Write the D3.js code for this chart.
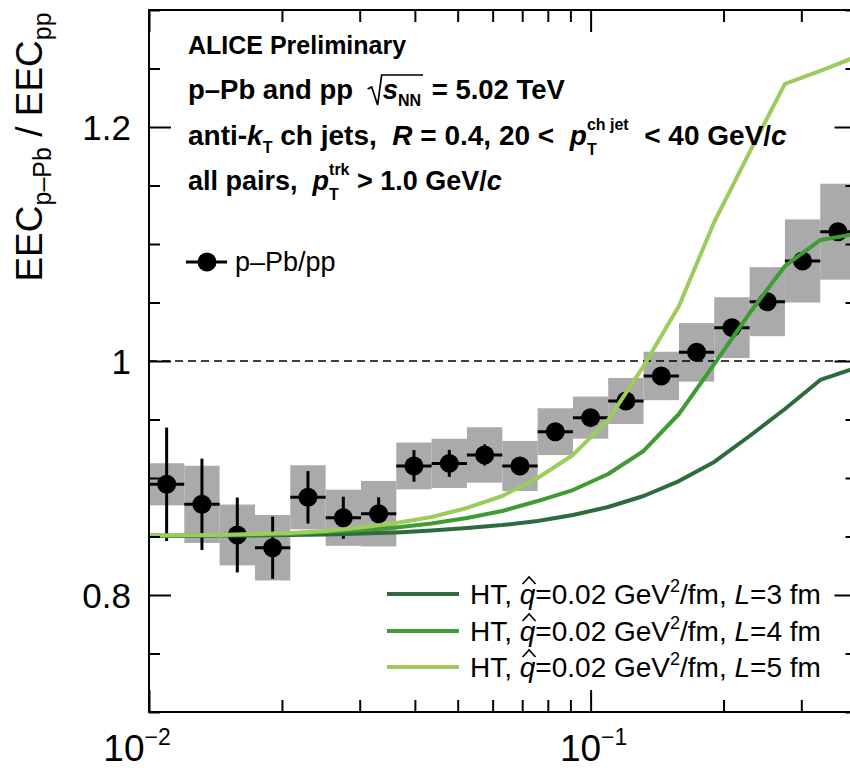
<!DOCTYPE html>
<html><head><meta charset="utf-8">
<script src="https://cdn.jsdelivr.net/npm/d3@7"></script>
<style>
body{margin:0;background:#fff}
svg{display:block}
text{font-family:"Liberation Sans",Arial,Helvetica,sans-serif;white-space:pre}
</style>
</head><body>
<svg id="c" width="850" height="768"></svg>
<script>
// ---------- data ----------
const binEdges = [0.01, 0.01202, 0.01445, 0.01738, 0.02089, 0.02512, 0.0302, 0.0363, 0.04365, 0.05248,
  0.0631, 0.07586, 0.0912, 0.1096, 0.1318, 0.1585, 0.1905, 0.2291, 0.2754, 0.3311, 0.3981];
const ratio = [0.8946, 0.8775, 0.8513, 0.8404, 0.8835, 0.8660, 0.8695, 0.9103, 0.9125, 0.9197,
  0.9103, 0.9396, 0.9516, 0.9658, 0.9872, 1.0074, 1.0285, 1.0507, 1.0855, 1.1105];
const statErr = [0.0485, 0.039, 0.032, 0.0266, 0.0224, 0.018, 0.014, 0.0135, 0.0115, 0.009,
  0.006, 0.005, 0.005, 0.004, 0.004, 0.004, 0.004, 0.004, 0.004, 0.004];
const sysErr = [0.018, 0.033, 0.026, 0.028, 0.0274, 0.024, 0.028, 0.020, 0.021, 0.0237,
  0.0214, 0.020, 0.018, 0.0197, 0.0207, 0.025, 0.026, 0.0295, 0.0355, 0.041];
// theory curves (values at bin edges)
const htL3 = [0.8504, 0.8504, 0.8509, 0.8509, 0.8513, 0.8517, 0.8526, 0.8534, 0.8551, 0.8573,
  0.8598, 0.8632, 0.8684, 0.8752, 0.8846, 0.8974, 0.9137, 0.9359, 0.9590, 0.9838, 0.9940];
const htL4 = [0.8509, 0.8509, 0.8513, 0.8517, 0.8521, 0.8538, 0.8556, 0.8577, 0.8611, 0.8658,
  0.8718, 0.8803, 0.8897, 0.9034, 0.9231, 0.9547, 0.9974, 1.0410, 1.0812, 1.1034, 1.1085];
const htL5 = [0.8509, 0.8510, 0.8513, 0.8521, 0.8530, 0.8547, 0.8577, 0.8615, 0.8667, 0.8744,
  0.8846, 0.9000, 0.9197, 0.9496, 0.9957, 1.0470, 1.1188, 1.1786, 1.2368, 1.2479, 1.2598];
const theoryL = ["3", "4", "5"];
const theoryColors = ["#2e6c3e", "#3f9b33", "#9dcc5c"];
const yTickLabels = [0.8, 1.0, 1.2];
const xTickMajor = [0.01, 0.1];
const xTickExp = ["\u22122", "\u22121"];

// ---------- setup ----------
const svg = d3.select("#c");
const x = d3.scaleLog().domain([0.01, 0.4]).range([149, 856.5]);
const y = d3.scaleLinear().domain([0.7, 1.3]).range([712, 10]);
const X0 = x.range()[0], X1 = x.range()[1], Y0 = y.range()[0], Y1 = y.range()[1];

const bins = ratio.map((v, i) => ({
  lo: binEdges[i], hi: binEdges[i + 1], c: Math.sqrt(binEdges[i] * binEdges[i + 1]),
  v, s: statErr[i], sys: sysErr[i]
}));

// systematic boxes
svg.append("g").selectAll("rect").data(bins).join("rect")
  .attr("x", d => x(d.lo)).attr("width", d => x(d.hi) - x(d.lo))
  .attr("y", d => y(d.v + d.sys)).attr("height", d => y(d.v - d.sys) - y(d.v + d.sys))
  .attr("fill", "#aaaaaa");

// dashed unity line
svg.append("line").attr("x1", X0).attr("x2", X1).attr("y1", y(1)).attr("y2", y(1))
  .attr("stroke", "#000").attr("stroke-width", 1.6).attr("stroke-dasharray", "8,5");

// stat errors
const eg = svg.append("g").attr("stroke", "#000").attr("stroke-width", 3);
eg.selectAll(".h").data(bins).join("line").attr("class", "h")
  .attr("x1", d => x(d.lo)).attr("x2", d => x(d.hi)).attr("y1", d => y(d.v)).attr("y2", d => y(d.v));
eg.selectAll(".v").data(bins).join("line").attr("class", "v")
  .attr("x1", d => x(d.c)).attr("x2", d => x(d.c)).attr("y1", d => y(d.v - d.s)).attr("y2", d => y(d.v + d.s));
svg.append("g").selectAll("circle").data(bins).join("circle")
  .attr("cx", d => x(d.c)).attr("cy", d => y(d.v)).attr("r", 9.5).attr("fill", "#000");

// theory curves
const line = d3.line().x((d, i) => x(binEdges[i])).y(d => y(d));
[htL3, htL4, htL5].forEach((arr, k) => {
  svg.append("path").datum(arr).attr("d", line).attr("fill", "none")
    .attr("stroke", theoryColors[k]).attr("stroke-width", 4).attr("stroke-linejoin", "round");
});

// ---------- frame & ticks ----------
const yMinor = y.ticks(12).filter(v => !yTickLabels.some(t => Math.abs(t - v) < 1e-6));
const xMinor = x.ticks().filter(v => !xTickMajor.some(t => Math.abs(t - v) / t < 1e-6));
function tickGroup(axisFn, tr) {
  const g = svg.append("g").attr("transform", tr).call(axisFn);
  g.select(".domain").remove();
  g.selectAll("line").attr("stroke", "#000").attr("stroke-width", 2);
  return g;
}
tickGroup(d3.axisLeft(y).tickValues(yMinor).tickSize(-11).tickFormat(""), `translate(${X0},0)`);
tickGroup(d3.axisLeft(y).tickValues(yTickLabels).tickSize(-22).tickFormat(""), `translate(${X0},0)`);
tickGroup(d3.axisRight(y).tickValues(yMinor).tickSize(-11).tickFormat(""), `translate(${X1},0)`);
tickGroup(d3.axisRight(y).tickValues(yTickLabels).tickSize(-22).tickFormat(""), `translate(${X1},0)`);
tickGroup(d3.axisBottom(x).tickValues(xMinor).tickSize(-12).tickFormat(""), `translate(0,${Y0})`);
tickGroup(d3.axisBottom(x).tickValues(xTickMajor).tickSize(-22).tickFormat(""), `translate(0,${Y0})`);
tickGroup(d3.axisTop(x).tickValues(xMinor).tickSize(-12).tickFormat(""), `translate(0,${Y1})`);
tickGroup(d3.axisTop(x).tickValues(xTickMajor).tickSize(-22).tickFormat(""), `translate(0,${Y1})`);
svg.append("rect").attr("x", X0).attr("y", Y1).attr("width", X1 - X0).attr("height", Y0 - Y1)
  .attr("fill", "none").attr("stroke", "#000").attr("stroke-width", 2);

// ---------- rich text helper ----------
function rich(g, x0, y0, segs, base) {
  let cx = x0, prevStart = x0;
  const out = [];
  segs.forEach(s => {
    if (s.gap !== undefined) { cx += s.gap; out.push({x: cx}); return; }
    const size = s.size || base.size;
    const sx = s.stack ? prevStart : cx;
    const t = g.append("text").attr("x", sx).attr("y", y0 + (s.dy || 0))
      .attr("font-size", size)
      .attr("font-weight", (s.bold !== undefined ? s.bold : base.bold) ? "bold" : "normal")
      .attr("font-style", s.italic ? "italic" : "normal")
      .attr("fill", "#000").text(s.t);
    const w = t.node().getComputedTextLength();
    if (s.stack) cx = Math.max(cx, sx + w); else { prevStart = sx; cx = sx + w; }
    out.push({x: sx, w});
  });
  out.end = cx;
  return out;
}

// ---------- axis labels ----------
yTickLabels.forEach(v => {
  svg.append("text").attr("x", 131).attr("y", y(v) + 12.5).attr("text-anchor", "end")
    .attr("font-size", 35).text(String(v));
});
const xLabelShift = [-12, 3];
xTickMajor.forEach((v, i) => {
  const g = svg.append("g");
  const r = rich(g, 0, 0, [{t: "10"}, {t: xTickExp[i], size: 23, dy: -16}], {size: 37, bold: false});
  g.attr("transform", `translate(${x(v) - r.end / 2 + xLabelShift[i]},${761})`);
});
{
  const g = svg.append("g").attr("transform", "translate(42,147) rotate(-90)");
  const inner = g.append("g");
  const r = rich(inner, 0, 0, [
    {t: "EEC"}, {t: "p\u2013Pb", size: 25, dy: 9}, {t: " / EEC"}, {t: "pp", size: 25, dy: 9}
  ], {size: 37, bold: false});
  inner.attr("transform", `translate(${-r.end / 2},0)`);
}

// ---------- header text ----------
const tb = {size: 27.5, bold: true};
rich(svg, 188, 54, [{t: "ALICE Preliminary", size: 25}], tb);
{
  const r = rich(svg, 188, 99, [{t: "p\u2013Pb and pp "}, {gap: 22}, {t: "s", italic: true},
    {t: "NN", size: 16, dy: 7}, {gap: 3}, {t: " = 5.02 TeV"}], tb);
  const xs = r[1].x, xe = r[3].x + r[3].w + 2, yb = 99;
  svg.append("path")
    .attr("d", `M${xs - 15},${yb - 10} L${xs - 11},${yb - 12} L${xs - 5},${yb + 6} L${xs - 1},${yb - 24} L${xe},${yb - 24}`)
    .attr("fill", "none").attr("stroke", "#000").attr("stroke-width", 1.7);
}
rich(svg, 188, 145, [{t: "anti-"}, {t: "k", italic: true}, {t: "T", size: 16, dy: 8}, {t: " ch jets,  "},
  {t: "R", italic: true}, {t: " = 0.4, 20 <  "}, {t: "p", italic: true}, {t: "T", size: 16, dy: 10},
  {t: "ch jet", size: 16, dy: -15, stack: true}, {t: "  < 40 GeV/"}, {t: "c", italic: true}], {size: 28, bold: true});
rich(svg, 188, 190, [{t: "all pairs,  "}, {t: "p", italic: true}, {t: "T", size: 16, dy: 10},
  {t: "trk", size: 16, dy: -15, stack: true}, {t: " > 1.0 GeV/"}, {t: "c", italic: true}], {size: 27, bold: true});

// ---------- data legend ----------
svg.append("line").attr("x1", 186).attr("x2", 227).attr("y1", 262).attr("y2", 262)
  .attr("stroke", "#000").attr("stroke-width", 3);
svg.append("circle").attr("cx", 207).attr("cy", 262).attr("r", 9.5).attr("fill", "#000");
rich(svg, 235, 271, [{t: "p\u2013Pb/pp"}], {size: 27, bold: false});

// ---------- theory legend ----------
const legY = [594, 631, 667];
theoryL.forEach((L, k) => {
  svg.append("line").attr("x1", 387).attr("x2", 459).attr("y1", legY[k]).attr("y2", legY[k])
    .attr("stroke", theoryColors[k]).attr("stroke-width", 4);
  const yb = legY[k] + 10;
  const r = rich(svg, 470, yb, [{t: "HT, "}, {t: "q", italic: true}, {t: "=0.02 GeV"},
    {t: "2", size: 18, dy: -12}, {t: "/fm, "}, {t: "L", italic: true}, {t: "=" + L + " fm"}], {size: 28, bold: false});
  const qx = r[1].x + r[1].w / 2 + 1.5;
  svg.append("path").attr("d", `M${qx - 6.5},${yb - 20} L${qx},${yb - 27} L${qx + 6.5},${yb - 20}`)
    .attr("fill", "none").attr("stroke", "#000").attr("stroke-width", 1.6);
});
</script>
</body></html>
